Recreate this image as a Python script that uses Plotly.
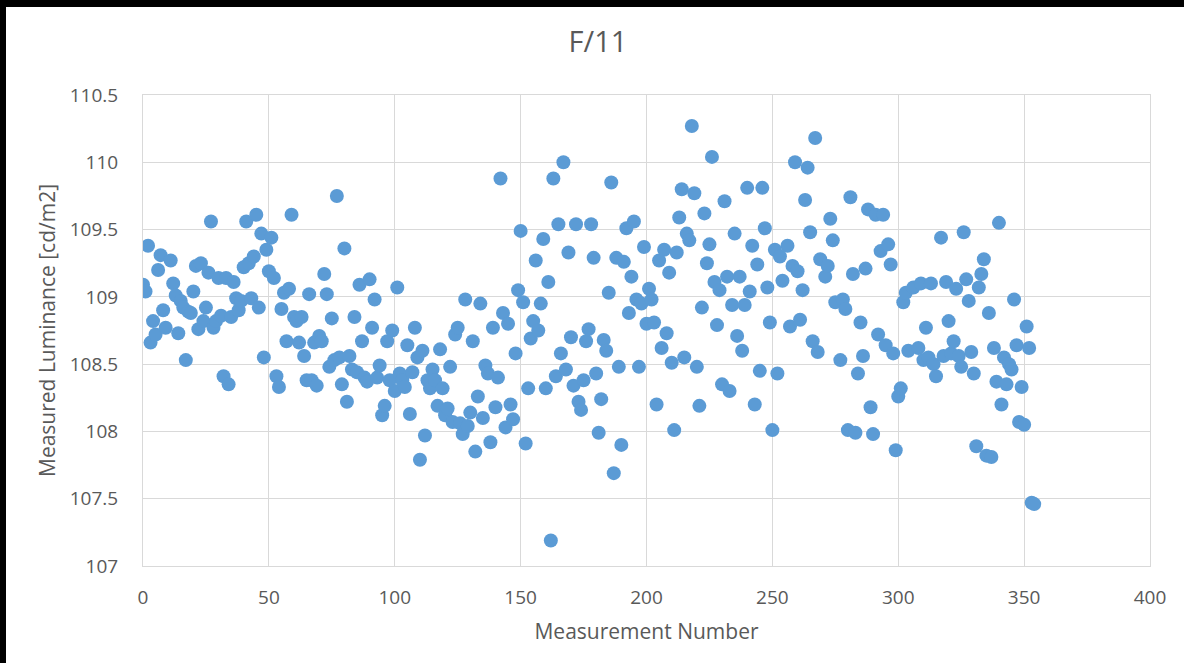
import plotly.graph_objects as go

# Valores (número da medição, luminância em cd/m2)
measurement_number = [
    0, 1, 2, 3, 4, 5, 6, 7, 8, 9,
    11, 12, 13, 14, 15, 16, 17, 18, 19, 20,
    21, 22, 23, 24, 25, 26, 27, 28, 29, 30,
    31, 32, 33, 34, 35, 36, 37, 38, 39, 40,
    41, 42, 43, 44, 45, 46, 47, 48, 49, 50,
    51, 52, 53, 54, 55, 56, 57, 58, 59, 60,
    61, 62, 63, 64, 65, 66, 67, 68, 69, 70,
    71, 72, 73, 74, 75, 76, 77, 78, 79, 80,
    81, 82, 83, 84, 85, 86, 87, 88, 89, 90,
    91, 92, 93, 94, 95, 96, 97, 98, 99, 100,
    101, 102, 103, 104, 105, 106, 107, 108, 109, 110,
    111, 112, 113, 114, 115, 116, 117, 118, 119, 120,
    121, 122, 123, 124, 125, 126, 127, 128, 129, 130,
    131, 132, 133, 134, 135, 136, 137, 138, 139, 140,
    141, 142, 143, 144, 145, 146, 147, 148, 149, 150,
    151, 152, 153, 154, 155, 156, 157, 158, 159, 160,
    161, 162, 163, 164, 165, 166, 167, 168, 169, 170,
    171, 172, 173, 174, 175, 176, 177, 178, 179, 180,
    181, 182, 183, 184, 185, 186, 187, 188, 189, 190,
    191, 192, 193, 194, 195, 196, 197, 198, 199, 200,
    201, 202, 203, 204, 205, 206, 207, 208, 209, 210,
    211, 212, 213, 214, 215, 216, 217, 218, 219, 220,
    221, 222, 223, 224, 225, 226, 227, 228, 229, 230,
    231, 232, 233, 234, 235, 236, 237, 238, 239, 240,
    241, 242, 243, 244, 245, 246, 247, 248, 249, 250,
    251, 252, 253, 254, 256, 257, 258, 259, 260,
    261, 262, 263, 264, 265, 266, 267, 268, 269,
    271, 272, 273, 274, 275, 277, 278, 279, 280,
    281, 282, 283, 284, 285, 286, 287, 288, 289, 290,
    291, 292, 293, 294, 295, 296, 297, 298, 299, 300,
    301, 302, 303, 304, 306, 308, 309, 310,
    311, 312, 313, 314, 315, 317, 318, 319, 320,
    321, 322, 323, 324, 325, 326, 327, 328, 329, 330,
    331, 332, 333, 334, 335, 336, 337, 338, 339, 340,
    341, 342, 343, 344, 345, 346, 347, 348, 349, 350,
    351, 352, 353, 354,
]

luminance = [
    109.09, 109.04, 109.38, 108.66, 108.82, 108.72, 109.20, 109.31, 108.90, 108.77,
    109.27, 109.10, 109.01, 108.73, 108.97, 108.92, 108.53, 108.89, 108.88, 109.04,
    109.23, 108.76, 109.25, 108.82, 108.92, 109.18, 109.56, 108.77, 108.82, 109.14,
    108.86, 108.41, 109.14, 108.35, 108.85, 109.11, 108.99, 108.90, 108.97, 109.22,
    109.56, 109.25, 108.99, 109.30, 109.61, 108.92, 109.47, 108.55, 109.35, 109.19,
    109.44, 109.14, 108.41, 108.33, 108.91, 109.03, 108.67, 109.06, 109.61, 108.85,
    108.82, 108.66, 108.85, 108.56, 108.38, 109.02, 108.38, 108.66, 108.34, 108.71,
    108.67, 109.17, 109.02, 108.48, 108.84, 108.53, 109.75, 108.55, 108.35, 109.36,
    108.22, 108.56, 108.46, 108.85, 108.44, 109.09, 108.67, 108.40, 108.37, 109.13,
    108.77, 108.98, 108.40, 108.49, 108.12, 108.19, 108.67, 108.38, 108.75, 108.30,
    109.07, 108.43, 108.38, 108.33, 108.64, 108.13, 108.44, 108.77, 108.55, 107.79,
    108.60, 107.97, 108.38, 108.32, 108.46, 108.38, 108.19, 108.61, 108.32, 108.12,
    108.17, 108.48, 108.07, 108.72, 108.77, 108.06, 107.98, 108.98, 108.04, 108.14,
    108.67, 107.85, 108.26, 108.95, 108.10, 108.49, 108.43, 107.92, 108.77, 108.18,
    108.40, 109.88, 108.88, 108.03, 108.80, 108.20, 108.09, 108.58, 109.05, 109.49,
    108.96, 107.91, 108.32, 108.69, 108.82, 109.27, 108.75, 108.95, 109.43, 108.32,
    109.11, 107.19, 109.88, 108.41, 109.54, 108.58, 110.00, 108.46, 109.33, 108.70,
    108.34, 109.54, 108.22, 108.16, 108.38, 108.67, 108.76, 109.54, 109.29, 108.43,
    107.99, 108.24, 108.68, 108.60, 109.03, 109.85, 107.69, 109.29, 108.48, 107.90,
    109.26, 109.51, 108.88, 109.15, 109.56, 108.98, 108.48, 108.95, 109.37, 108.80,
    109.06, 108.98, 108.81, 108.20, 109.27, 108.62, 109.35, 108.73, 109.18, 108.51,
    108.01, 109.33, 109.59, 109.80, 108.55, 109.47, 109.42, 110.27, 109.77, 108.48,
    108.19, 108.92, 109.62, 109.25, 109.39, 110.04, 109.11, 108.79, 109.05, 108.35,
    109.71, 109.15, 108.30, 108.94, 109.47, 108.71, 109.15, 108.60, 108.94, 109.81,
    109.04, 109.38, 108.20, 109.24, 108.45, 109.81, 109.51, 109.07, 108.81, 108.01,
    109.35, 108.43, 109.30, 109.12, 109.38, 108.78, 109.23, 110.00, 109.19,
    108.83, 109.05, 109.72, 109.96, 109.48, 108.67, 110.18, 108.59, 109.28,
    109.15, 109.23, 109.58, 109.42, 108.96, 108.53, 108.98, 108.91, 108.01,
    109.74, 109.17, 107.99, 108.43, 108.81, 108.56, 109.21, 109.65, 108.18, 107.98,
    109.61, 108.72, 109.34, 109.61, 108.64, 109.39, 109.24, 108.58, 107.86, 108.26,
    108.32, 108.96, 109.03, 108.60, 109.07, 108.62, 109.10, 108.53,
    108.77, 108.55, 109.10, 108.50, 108.41, 109.44, 108.56, 109.11, 108.82,
    108.58, 108.67, 109.06, 108.56, 108.48, 109.48, 109.13, 108.97, 108.59, 108.43,
    107.89, 109.07, 109.17, 109.28, 107.82, 108.88, 107.81, 108.62, 108.37, 109.55,
    108.20, 108.55, 108.35, 108.50, 108.46, 108.98, 108.64, 108.07, 108.33, 108.05,
    108.78, 108.62, 107.47, 107.46,
]

x_ticks = [0, 50, 100, 150, 200, 250, 300, 350, 400]
y_ticks = [107, 107.5, 108, 108.5, 109, 109.5, 110, 110.5]

TEXT = '#595959'
GRID = '#D9D9D9'
FONT = 'Open Sans'

fig = go.Figure()

fig.add_trace(go.Scatter(
    x=measurement_number, y=luminance, mode='markers',
    marker=dict(size=14, color='#5B9BD5', line=dict(width=0)),
    showlegend=False,
    hovertemplate='%{x}: %{y:.2f}<extra></extra>'
))

fig.update_layout(
    width=1184, height=663,
    paper_bgcolor='white', plot_bgcolor='white',
    margin=dict(l=137, r=40, t=88, b=104),
    font=dict(family=FONT, color=TEXT),
    title=dict(text='F/11', x=0.5, xanchor='center', y=0.947, yanchor='middle',
               yref='container', font=dict(size=29, color=TEXT, family=FONT)),
    xaxis=dict(
        range=[0, 400], tickvals=x_ticks, ticktext=[str(v) for v in x_ticks],
        showgrid=True, gridcolor=GRID, gridwidth=1, zeroline=False,
        showline=True, linecolor=GRID, linewidth=1, mirror=True,
        ticks='outside', ticklen=14, tickcolor='rgba(0,0,0,0)',
        tickfont=dict(size=19, color=TEXT, family=FONT),
        title=dict(text='Measurement Number', standoff=15,
                   font=dict(size=21, color=TEXT, family=FONT)),
    ),
    yaxis=dict(
        range=[107, 110.5], tickvals=y_ticks, ticktext=[f'{v:g}' for v in y_ticks],
        showgrid=True, gridcolor=GRID, gridwidth=1, zeroline=False,
        showline=True, linecolor=GRID, linewidth=1, mirror=True,
        ticks='outside', ticklen=20, tickcolor='rgba(0,0,0,0)',
        tickfont=dict(size=19, color=TEXT, family=FONT),
        title=dict(text='Measured Luminance [cd/m2]', standoff=8,
                   font=dict(size=21, color=TEXT, family=FONT)),
    ),
)

# moldura preta no topo e à esquerda, como na captura original
post = ("document.body.style.margin='7px 0 0 6px';"
        "document.body.style.background='black';"
        "document.body.style.overflow='hidden';")

fig.write_html("out.html", post_script=post)
